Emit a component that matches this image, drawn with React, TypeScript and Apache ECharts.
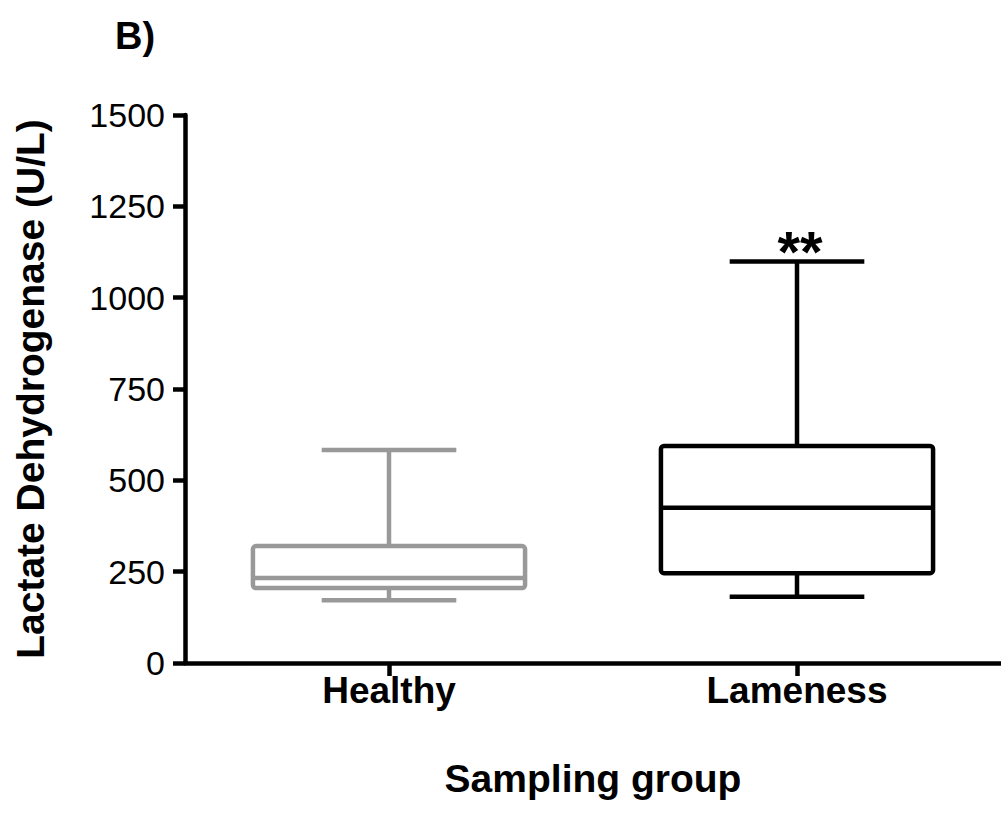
import React, { useEffect, useRef } from "react";
import * as echarts from "echarts";

const categories = ["Healthy", "Lameness"];
const mins = [172, 181];
const q1s = [205, 246];
const medians = [233, 425];
const q3s = [320, 594];
const maxs = [583, 1099];
const boxColors = ["#999999", "#000000"];
const annotations = ["", "**"];
const yTicks = [0, 250, 500, 750, 1000, 1250, 1500];

const SANS = "'Liberation Sans', Arial, sans-serif";

export default function App() {
  const ref = useRef<HTMLDivElement>(null);
  useEffect(() => {
    if (!ref.current) return;
    const chart = echarts.init(ref.current, undefined, { renderer: "svg" });
    const data = categories.map((c, i) => [i, mins[i], q1s[i], medians[i], q3s[i], maxs[i]]);
    const lw = 4.5;
    chart.setOption({
      animation: false,
      backgroundColor: "#ffffff",
      grid: { left: 185, top: 115, bottom: 151, right: -14, containLabel: false },
      graphic: [
        {
          type: "text",
          left: 115,
          top: 17,
          style: { text: "B)", fontFamily: SANS, fontWeight: "bold", fontSize: 38, fill: "#000" },
        },
      ],
      xAxis: {
        type: "category",
        data: categories,
        boundaryGap: true,
        name: "Sampling group",
        nameLocation: "middle",
        nameGap: 96,
        nameTextStyle: { fontFamily: SANS, fontWeight: "bold", fontSize: 39, color: "#000" },
        axisLine: { lineStyle: { color: "#000", width: lw } },
        axisTick: { show: true, alignWithLabel: true, length: 13, lineStyle: { color: "#000", width: lw } },
        axisLabel: { fontFamily: SANS, fontWeight: "bold", fontSize: 37, color: "#000", margin: 9 },
        splitLine: { show: false },
      },
      yAxis: {
        type: "value",
        min: 0,
        max: 1500,
        interval: 250,
        name: "Lactate Dehydrogenase (U/L)",
        nameLocation: "middle",
        nameGap: 135,
        nameTextStyle: { fontFamily: SANS, fontWeight: "bold", fontSize: 39, color: "#000" },
        axisLine: { show: true, lineStyle: { color: "#000", width: lw } },
        axisTick: { show: true, length: 12, lineStyle: { color: "#000", width: lw } },
        axisLabel: {
          fontFamily: SANS,
          fontSize: 34,
          color: "#000",
          margin: 20,
          formatter: (v: number) => (yTicks.includes(v) ? String(v) : ""),
        },
        splitLine: { show: false },
      },
      series: [
        {
          type: "custom",
          data,
          encode: { x: 0, y: [1, 2, 3, 4, 5] },
          renderItem: (params: any, api: any) => {
            const idx = api.value(0);
            const band = api.size([1, 0])[0];
            const boxW = band * 0.667;
            const capW = band * 0.33;
            const pMin = api.coord([idx, api.value(1)]);
            const pQ1 = api.coord([idx, api.value(2)]);
            const pMed = api.coord([idx, api.value(3)]);
            const pQ3 = api.coord([idx, api.value(4)]);
            const pMax = api.coord([idx, api.value(5)]);
            const cx = pMed[0];
            const color = boxColors[params.dataIndex];
            const st = { stroke: color, lineWidth: lw, fill: "none", lineCap: "butt" };
            const children: any[] = [
              { type: "line", shape: { x1: cx, y1: pQ3[1], x2: cx, y2: pMax[1] }, style: st },
              { type: "line", shape: { x1: cx, y1: pQ1[1], x2: cx, y2: pMin[1] }, style: st },
              { type: "line", shape: { x1: cx - capW / 2, y1: pMax[1], x2: cx + capW / 2, y2: pMax[1] }, style: st },
              { type: "line", shape: { x1: cx - capW / 2, y1: pMin[1], x2: cx + capW / 2, y2: pMin[1] }, style: st },
              {
                type: "rect",
                shape: { x: cx - boxW / 2, y: pQ3[1], width: boxW, height: pQ1[1] - pQ3[1], r: 3 },
                style: { stroke: color, lineWidth: lw, fill: "#fff" },
              },
              { type: "line", shape: { x1: cx - boxW / 2, y1: pMed[1], x2: cx + boxW / 2, y2: pMed[1] }, style: st },
            ];
            const ann = annotations[params.dataIndex];
            if (ann) {
              children.push({
                type: "text",
                x: cx + 3,
                y: pMax[1] - 10,
                style: {
                  text: ann,
                  fontFamily: SANS,
                  fontWeight: "bold",
                  fontSize: 58,
                  fill: "#000",
                  align: "center",
                  verticalAlign: "middle",
                },
              });
            }
            return { type: "group", children };
          },
        },
      ],
    });
    return () => chart.dispose();
  }, []);
  return <div ref={ref} style={{ width: 1001, height: 814, position: "absolute", left: 0, top: 0 }} />;
}
